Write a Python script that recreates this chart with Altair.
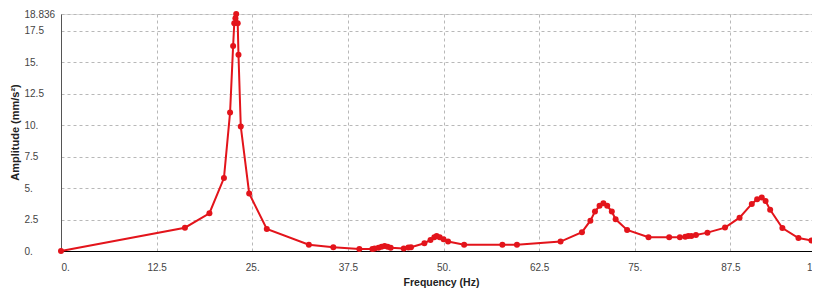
import altair as alt
import pandas as pd

freq = [0, 16.2, 19.4, 21.3, 22.1, 22.5, 22.65, 22.8, 22.9, 23.1, 23.2, 23.5, 24.6, 26.9,
        32.4, 35.6, 39.0, 40.7, 41.0, 41.5, 41.9, 42.3, 42.7, 43.1, 44.8, 45.4, 45.75,
        47.5, 48.3, 48.8, 49.1, 49.5, 50.0, 50.6, 52.7, 57.7, 59.6, 65.3, 68.1, 69.2,
        69.8, 70.4, 70.9, 71.4, 72.0, 72.5, 74.0, 76.8, 79.5, 80.9, 81.6, 82.0, 82.4,
        83.0, 84.5, 86.8, 88.7, 90.3, 91.0, 91.6, 92.1, 92.7, 94.3, 96.4, 98.1, 99.3]
amp = [0, 1.85, 3.0, 5.8, 11.0, 16.3, 18.1, 18.5, 18.836, 18.1, 15.6, 9.9, 4.57, 1.75,
       0.5, 0.3, 0.15, 0.15, 0.2, 0.26, 0.34, 0.4, 0.34, 0.26, 0.2, 0.27, 0.3,
       0.62, 0.88, 1.09, 1.2, 1.09, 0.93, 0.76, 0.5, 0.5, 0.5, 0.75, 1.5, 2.41,
       3.13, 3.59, 3.8, 3.59, 3.13, 2.52, 1.67, 1.09, 1.09, 1.09, 1.14, 1.19, 1.2,
       1.27, 1.46, 1.86, 2.65, 3.74, 4.12, 4.25, 3.98, 3.27, 1.83, 1.03, 0.84, 1.2]

x_ticks = [0, 12.5, 25, 37.5, 50, 62.5, 75, 87.5, 100]
y_ticks = [0, 2.5, 5, 7.5, 10, 12.5, 15, 17.5, 18.836]

df = pd.DataFrame({"f": freq, "a": amp})

label_expr = "datum.value == floor(datum.value) ? datum.value + '.' : '' + datum.value"

x = alt.X("f:Q", scale=alt.Scale(domain=[0, 100], nice=False, zero=False),
          axis=alt.Axis(values=x_ticks, labelExpr=label_expr, title="Frequency (Hz)",
                        gridDash=[3, 3], gridColor="#b8b8b8", domainColor="#000000",
                        tickSize=0, labelPadding=11, labelOverlap=False,
                        labelFont="Liberation Sans", labelFontSize=10, labelColor="#444444",
                        titleFont="Liberation Sans", titleFontSize=10.5, titleFontWeight="bold",
                        titleColor="#222222", titleX=380, titleY=31, titleBaseline="middle"))
y = alt.Y("a:Q", scale=alt.Scale(domain=[0, 18.836], nice=False),
          axis=alt.Axis(values=y_ticks, labelExpr=label_expr, title="Amplitude (mm/s²)",
                        gridDash=[3, 3], gridColor="#b8b8b8", domainColor="#555555",
                        tickSize=0, labelAlign="left", labelPadding=37, labelOverlap=False,
                        labelFont="Liberation Sans", labelFontSize=10, labelColor="#444444",
                        titleFont="Liberation Sans", titleFontSize=11, titleFontWeight="bold",
                        titleColor="#222222", titleX=-46, titleY=118, titleBaseline="middle"))

base = alt.Chart(df).encode(x=x, y=y)
line = base.mark_line(color="#e3141b", strokeWidth=2)
pts = base.mark_circle(color="#e3141b", opacity=1, size=36)

chart = alt.layer(line, pts).properties(
    width=765, height=237,
    autosize=alt.AutoSizeParams(type="none"),
    padding={"left": 53, "top": 6, "right": -14, "bottom": 37},
).configure_view(stroke="#808080", strokeWidth=1.5).configure_axis(
    labelOverlap=False
).configure(background="white")

chart.save("out.html", embed_options={"renderer": "svg", "actions": False})
